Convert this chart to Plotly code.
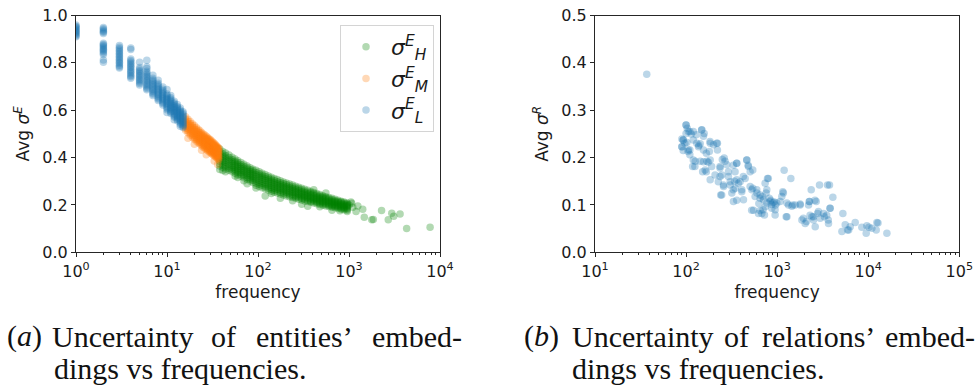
import plotly.graph_objects as go

# ------------------------------------------------------------------ data
# (a) entities: frequency -> observed average sigma values (read off the plot)
L_freq = [1, 2, 3, 4, 5, 6, 7, 8, 9, 10, 11, 12, 13, 14, 15]
L_sigma = [
    [0.910, 0.915, 0.920, 0.925, 0.929, 0.934, 0.938, 0.942, 0.947, 0.951, 0.955, 0.960],
    [0.924, 0.929, 0.934, 0.939, 0.944, 0.949, 0.842, 0.848, 0.853, 0.858, 0.863, 0.868, 0.873, 0.878, 0.883, 0.835, 0.812, 0.803],
    [0.778, 0.784, 0.790, 0.797, 0.803, 0.809, 0.815, 0.822, 0.828, 0.834, 0.841, 0.847, 0.853, 0.860, 0.866, 0.873],
    [0.863, 0.856, 0.735, 0.741, 0.747, 0.754, 0.760, 0.766, 0.772, 0.779, 0.785, 0.791, 0.797, 0.804, 0.810, 0.816],
    [0.803, 0.707, 0.713, 0.719, 0.725, 0.731, 0.737, 0.743, 0.749, 0.755, 0.761, 0.767, 0.773, 0.780],
    [0.811, 0.784, 0.776, 0.686, 0.692, 0.698, 0.704, 0.710, 0.716, 0.722, 0.728, 0.734, 0.740, 0.746, 0.752, 0.758, 0.765],
    [0.662, 0.668, 0.674, 0.680, 0.686, 0.692, 0.698, 0.704, 0.710, 0.716, 0.722, 0.728, 0.735, 0.748],
    [0.641, 0.647, 0.653, 0.659, 0.665, 0.671, 0.677, 0.683, 0.689, 0.695, 0.701, 0.708, 0.714, 0.727],
    [0.622, 0.628, 0.634, 0.640, 0.646, 0.652, 0.658, 0.664, 0.670, 0.676, 0.682, 0.689, 0.698],
    [0.602, 0.608, 0.614, 0.620, 0.626, 0.632, 0.638, 0.644, 0.650, 0.656, 0.662, 0.669, 0.688, 0.590],
    [0.586, 0.592, 0.598, 0.604, 0.610, 0.616, 0.622, 0.628, 0.634, 0.640, 0.646, 0.653, 0.662],
    [0.571, 0.577, 0.583, 0.589, 0.595, 0.601, 0.607, 0.613, 0.619, 0.625, 0.631, 0.638, 0.560],
    [0.556, 0.562, 0.568, 0.574, 0.580, 0.586, 0.592, 0.598, 0.604, 0.610, 0.616, 0.624],
    [0.541, 0.547, 0.553, 0.559, 0.565, 0.571, 0.577, 0.583, 0.589, 0.595, 0.601, 0.609, 0.532],
    [0.527, 0.533, 0.539, 0.545, 0.551, 0.557, 0.563, 0.569, 0.575, 0.581, 0.587, 0.594],
]

M_freq = [16, 17, 18, 19, 20, 21, 22, 23, 24, 25, 26, 27, 28, 29, 30, 31, 32, 33, 34, 35, 36, 37]
M_sigma = [
    [0.515, 0.523, 0.531, 0.539, 0.547, 0.555, 0.563, 0.572],
    [0.505, 0.513, 0.521, 0.529, 0.537, 0.545, 0.553, 0.562, 0.482],
    [0.495, 0.503, 0.511, 0.519, 0.527, 0.535, 0.543, 0.552],
    [0.485, 0.493, 0.501, 0.509, 0.518, 0.526, 0.534, 0.543],
    [0.477, 0.485, 0.493, 0.501, 0.510, 0.518, 0.526, 0.535, 0.456],
    [0.470, 0.478, 0.486, 0.494, 0.502, 0.510, 0.518, 0.527],
    [0.463, 0.471, 0.479, 0.487, 0.495, 0.503, 0.511, 0.520],
    [0.457, 0.465, 0.473, 0.481, 0.489, 0.497, 0.505, 0.513],
    [0.450, 0.458, 0.466, 0.474, 0.482, 0.490, 0.498, 0.506, 0.431],
    [0.444, 0.452, 0.460, 0.468, 0.476, 0.484, 0.492, 0.500],
    [0.439, 0.447, 0.455, 0.463, 0.471, 0.479, 0.487, 0.495],
    [0.434, 0.442, 0.450, 0.458, 0.466, 0.474, 0.482, 0.490, 0.412],
    [0.430, 0.437, 0.444, 0.451, 0.458, 0.465, 0.472, 0.479, 0.485],
    [0.425, 0.432, 0.439, 0.446, 0.453, 0.460, 0.467, 0.474, 0.480],
    [0.420, 0.427, 0.434, 0.441, 0.448, 0.455, 0.462, 0.469, 0.475],
    [0.416, 0.423, 0.430, 0.437, 0.444, 0.451, 0.458, 0.464, 0.470],
    [0.412, 0.419, 0.426, 0.433, 0.440, 0.446, 0.452, 0.459, 0.465],
    [0.408, 0.415, 0.422, 0.429, 0.436, 0.442, 0.448, 0.454, 0.460, 0.386],
    [0.404, 0.411, 0.418, 0.425, 0.432, 0.438, 0.444, 0.450, 0.455],
    [0.400, 0.407, 0.414, 0.421, 0.428, 0.434, 0.440, 0.445, 0.450],
    [0.395, 0.402, 0.409, 0.416, 0.423, 0.429, 0.435, 0.440, 0.445, 0.371],
    [0.390, 0.397, 0.404, 0.411, 0.418, 0.424, 0.430, 0.435, 0.440],
]

H_freq = [38, 41, 44, 48, 52, 56, 60, 65, 70, 76, 82, 88, 95, 103, 111, 120, 130, 140, 151, 163,
          176, 190, 205, 222, 240, 259, 280, 302, 326, 352, 380, 410, 443, 478, 516, 557, 602,
          650, 702, 758, 819, 884, 955]
H_sigma = [
    [0.364, 0.374, 0.384, 0.394, 0.404, 0.414, 0.424, 0.436, 0.350],
    [0.358, 0.368, 0.377, 0.387, 0.396, 0.406, 0.415, 0.426, 0.345],
    [0.352, 0.361, 0.370, 0.380, 0.389, 0.398, 0.408, 0.419, 0.340],
    [0.346, 0.355, 0.364, 0.373, 0.382, 0.391, 0.400, 0.411],
    [0.340, 0.349, 0.357, 0.366, 0.374, 0.383, 0.391, 0.401],
    [0.334, 0.343, 0.351, 0.360, 0.368, 0.377, 0.385, 0.394, 0.322],
    [0.328, 0.337, 0.345, 0.353, 0.361, 0.370, 0.378, 0.387, 0.316],
    [0.322, 0.330, 0.338, 0.346, 0.354, 0.362, 0.370, 0.379],
    [0.315, 0.323, 0.331, 0.339, 0.347, 0.355, 0.363, 0.372, 0.302],
    [0.308, 0.316, 0.324, 0.332, 0.340, 0.348, 0.356, 0.364, 0.290],
    [0.301, 0.309, 0.317, 0.325, 0.333, 0.341, 0.349, 0.357],
    [0.295, 0.303, 0.311, 0.319, 0.327, 0.335, 0.343, 0.351],
    [0.283, 0.292, 0.301, 0.310, 0.319, 0.328, 0.337, 0.346, 0.272],
    [0.278, 0.287, 0.296, 0.305, 0.314, 0.322, 0.331, 0.340],
    [0.273, 0.282, 0.291, 0.300, 0.308, 0.317, 0.325, 0.334],
    [0.268, 0.277, 0.286, 0.294, 0.303, 0.311, 0.320, 0.329, 0.238],
    [0.263, 0.272, 0.280, 0.289, 0.297, 0.305, 0.314, 0.322],
    [0.258, 0.267, 0.275, 0.283, 0.292, 0.300, 0.308, 0.317, 0.248],
    [0.254, 0.262, 0.270, 0.279, 0.287, 0.295, 0.303, 0.312],
    [0.250, 0.258, 0.266, 0.274, 0.282, 0.290, 0.298, 0.307],
    [0.246, 0.254, 0.262, 0.270, 0.278, 0.286, 0.294, 0.302, 0.228],
    [0.242, 0.250, 0.258, 0.266, 0.273, 0.281, 0.289, 0.297],
    [0.238, 0.246, 0.254, 0.262, 0.269, 0.277, 0.285, 0.293],
    [0.235, 0.243, 0.250, 0.258, 0.265, 0.273, 0.280, 0.288],
    [0.231, 0.239, 0.246, 0.254, 0.261, 0.268, 0.276, 0.284, 0.218],
    [0.228, 0.235, 0.242, 0.250, 0.257, 0.264, 0.271, 0.279],
    [0.224, 0.231, 0.238, 0.245, 0.252, 0.260, 0.267, 0.275],
    [0.221, 0.228, 0.235, 0.242, 0.249, 0.256, 0.263, 0.271, 0.203],
    [0.217, 0.224, 0.231, 0.238, 0.244, 0.251, 0.258, 0.266],
    [0.214, 0.221, 0.227, 0.234, 0.241, 0.247, 0.254, 0.262, 0.194],
    [0.211, 0.217, 0.224, 0.230, 0.237, 0.243, 0.250, 0.257],
    [0.208, 0.214, 0.221, 0.227, 0.233, 0.239, 0.246, 0.253, 0.264],
    [0.205, 0.211, 0.217, 0.223, 0.229, 0.235, 0.241, 0.248],
    [0.202, 0.208, 0.214, 0.220, 0.226, 0.232, 0.238, 0.244, 0.192],
    [0.199, 0.205, 0.211, 0.216, 0.222, 0.228, 0.234, 0.239],
    [0.196, 0.202, 0.207, 0.213, 0.218, 0.224, 0.229, 0.235, 0.250],
    [0.193, 0.199, 0.204, 0.209, 0.215, 0.220, 0.225, 0.231],
    [0.190, 0.195, 0.201, 0.206, 0.211, 0.216, 0.222, 0.228, 0.178],
    [0.188, 0.193, 0.198, 0.203, 0.208, 0.213, 0.218, 0.224],
    [0.185, 0.190, 0.195, 0.200, 0.205, 0.210, 0.215, 0.220],
    [0.182, 0.187, 0.192, 0.197, 0.202, 0.207, 0.212, 0.216],
    [0.180, 0.185, 0.190, 0.194, 0.199, 0.203, 0.208, 0.212],
    [0.178, 0.183, 0.187, 0.192, 0.196, 0.200, 0.204, 0.208, 0.172],
]
H_tail_freq = [1000, 1050, 1070, 1100, 1195, 1250, 1415, 1472, 1780, 1850, 2280, 2700, 2950,
               3100, 3640, 4300, 7780, 795]
H_tail_sigma = [0.200, 0.212, 0.207, 0.190, 0.172, 0.195, 0.182, 0.148, 0.137, 0.138, 0.176,
                0.137, 0.165, 0.152, 0.162, 0.101, 0.106, 0.175]

# (b) relations
rel_freq = [37, 90, 90, 93, 93, 100, 103, 100, 106, 97, 102, 106, 110, 118, 126, 120, 120, 129,
            137, 143, 149, 158, 155, 143, 152, 162, 169, 184, 184, 200, 221, 221, 191, 184, 208,
            226, 236, 247, 262, 268, 257, 240, 280, 292, 305, 318, 331, 346, 360, 360, 392, 409,
            427, 445, 464, 484, 505, 527, 540, 550, 573, 598, 624, 650, 679, 708, 726, 738, 757,
            770, 783, 837, 873, 950, 991, 1079, 1125, 1193, 1153, 1256, 1333, 1414, 1450, 1578,
            1790, 1868, 2032, 2210, 2365, 2266, 2405, 2508, 2617, 2684, 2775, 2918, 2970, 3231,
            3573, 3758, 3664, 3822, 4090, 5270, 5140, 5588, 5930, 6344, 7196, 8510, 9500, 9660,
            10970, 12450, 12240, 16030,
            100, 93, 90, 110, 114, 148, 155, 131, 138, 110, 105, 120, 125, 183, 217, 167, 180,
            155, 167, 175, 236, 250, 236, 292, 330, 360, 345, 464, 480, 425, 375, 305, 258, 246,
            330, 409, 505, 540, 600, 650, 690, 770, 800, 820, 740, 700, 650, 525, 630, 870, 930,
            950, 360, 340,
            1170, 1280, 1480, 1790, 2250, 2600, 1940, 2100, 2300, 2500, 2840, 3300, 3640, 3500,
            3800, 1280, 900, 850, 960, 6100, 12800, 10200]
rel_sigma = [0.376, 0.239, 0.223, 0.237, 0.215, 0.269, 0.262, 0.251, 0.255, 0.230, 0.232, 0.216,
             0.206, 0.181, 0.192, 0.237, 0.255, 0.248, 0.223, 0.229, 0.259, 0.251, 0.216, 0.192,
             0.170, 0.174, 0.192, 0.195, 0.230, 0.227, 0.230, 0.216, 0.181, 0.153, 0.163, 0.149,
             0.178, 0.163, 0.199, 0.192, 0.142, 0.121, 0.185, 0.160, 0.142, 0.125, 0.107, 0.135,
             0.188, 0.153, 0.149, 0.132, 0.111, 0.156, 0.195, 0.181, 0.170, 0.132, 0.174, 0.089,
             0.118, 0.132, 0.082, 0.121, 0.082, 0.111, 0.079, 0.146, 0.125, 0.104, 0.156, 0.107,
             0.093, 0.079, 0.104, 0.107, 0.118, 0.173, 0.128, 0.075, 0.100, 0.156, 0.097, 0.100,
             0.102, 0.068, 0.061, 0.100, 0.132, 0.107, 0.075, 0.068, 0.054, 0.107, 0.082, 0.142,
             0.072, 0.082, 0.142, 0.142, 0.061, 0.093, 0.116, 0.082, 0.044, 0.058, 0.047, 0.054,
             0.063, 0.053, 0.040, 0.056, 0.051, 0.063, 0.047, 0.040,
             0.269, 0.237, 0.223, 0.255, 0.250, 0.258, 0.245, 0.230, 0.226, 0.216, 0.213, 0.195,
             0.181, 0.234, 0.230, 0.209, 0.213, 0.191, 0.170, 0.190, 0.181, 0.196, 0.160, 0.170,
             0.184, 0.188, 0.170, 0.195, 0.184, 0.160, 0.146, 0.149, 0.139, 0.121, 0.132, 0.128,
             0.139, 0.135, 0.125, 0.114, 0.118, 0.132, 0.156, 0.114, 0.096, 0.090, 0.088, 0.089,
             0.103, 0.101, 0.106, 0.090, 0.110, 0.150,
             0.125, 0.104, 0.100, 0.100, 0.107, 0.110, 0.072, 0.065, 0.078, 0.075, 0.086, 0.075,
             0.068, 0.078, 0.093, 0.075, 0.105, 0.110, 0.100, 0.047, 0.062, 0.053]

legend_labels = ["<i>σ</i><sup><i>E</i></sup><sub><i>H</i></sub>",
                 "<i>σ</i><sup><i>E</i></sup><sub><i>M</i></sub>",
                 "<i>σ</i><sup><i>E</i></sup><sub><i>L</i></sub>"]
x_title = "frequency"
y_title_a = "Avg <i>σ</i><sup><i>E</i></sup>"
y_title_b = "Avg <i>σ</i><sup><i>R</i></sup>"
caption_a_line1 = ["(<i>a</i>)", "Uncertainty", "of", "entities’", "embed-"]
caption_a_line2 = "dings vs frequencies."
caption_b_line1 = ["(<i>b</i>)", "Uncertainty", "of", "relations’", "embed-"]
caption_b_line2 = "dings vs frequencies."


def expand(freqs, groups):
    xs, ys = [], []
    for f, vals in zip(freqs, groups):
        for v in vals:
            xs.append(f)
            ys.append(v)
    return xs, ys


Lx, Ly = expand(L_freq, L_sigma)
Mx, My = expand(M_freq, M_sigma)
Hx, Hy = expand(H_freq, H_sigma)
Hx = Hx + H_tail_freq
Hy = Hy + H_tail_sigma

# ------------------------------------------------------------------ figure
W, H = 975, 387
GREEN, ORANGE, BLUE = "#008000", "#ff7f0e", "#1f77b4"
ALPHA = 0.3
MSIZE = 7.5

fig = go.Figure()
for xs, ys, col, lab in [(Hx, Hy, GREEN, legend_labels[0]),
                         (Mx, My, ORANGE, legend_labels[1]),
                         (Lx, Ly, BLUE, legend_labels[2])]:
    fig.add_trace(go.Scatter(x=xs, y=ys, mode="markers", name=lab, legendgroup=lab,
                             marker=dict(color=col, size=MSIZE, opacity=ALPHA, line=dict(width=0)),
                             xaxis="x", yaxis="y"))

fig.add_trace(go.Scatter(x=rel_freq, y=rel_sigma, mode="markers", showlegend=False,
                         marker=dict(color=BLUE, size=MSIZE, opacity=ALPHA, line=dict(width=0)),
                         xaxis="x2", yaxis="y2"))

AX_COL = "#262626"
TICK_FONT = dict(family="DejaVu Sans", size=16, color="#1a1a1a")
TITLE_FONT = dict(family="DejaVu Sans", size=17, color="#1a1a1a")


def minor_vals(lo, hi):
    out = []
    for e in range(lo, hi):
        for m in range(2, 10):
            out.append(m * 10 ** e)
    return out


def log_axis(domain, lo, hi, anchor):
    return dict(domain=domain, type="log", range=[lo, hi], anchor=anchor, automargin=False,
                tickmode="array", tickvals=[10 ** e for e in range(lo, hi + 1)],
                ticktext=[f"10<sup>{e}</sup>" for e in range(lo, hi + 1)],
                ticks="outside", ticklen=4, tickwidth=1, tickcolor=AX_COL,
                minor=dict(ticks="outside", ticklen=2, tickwidth=0.8, tickcolor=AX_COL,
                           tickmode="array", tickvals=minor_vals(lo, hi)),
                showline=True, mirror=True, linecolor=AX_COL, linewidth=1,
                showgrid=False, zeroline=False, tickfont=TICK_FONT,
                title=dict(text=x_title, font=TITLE_FONT, standoff=6))


def lin_axis(domain, top, step, anchor, title):
    n = int(round(top / step))
    return dict(domain=domain, range=[0, top], anchor=anchor, automargin=False,
                tickmode="array", tickvals=[round(i * step, 2) for i in range(n + 1)],
                tickformat=".1f",
                ticks="outside", ticklen=4, tickwidth=1, tickcolor=AX_COL,
                showline=True, mirror=True, linecolor=AX_COL, linewidth=1,
                showgrid=False, zeroline=False, tickfont=TICK_FONT,
                title=dict(text=title, font=TITLE_FONT, standoff=8))


ydom = [1 - 252.3 / H, 1 - 15.5 / H]
fig.update_layout(
    width=W, height=H,
    margin=dict(l=0, r=0, t=0, b=0, autoexpand=False),
    paper_bgcolor="white", plot_bgcolor="white",
    font=dict(family="DejaVu Sans", color="#1a1a1a"),
    xaxis=log_axis([76 / W, 440 / W], 0, 4, "y"),
    yaxis=lin_axis(ydom, 1.0, 0.2, "x", y_title_a),
    xaxis2=log_axis([595 / W, 959.3 / W], 1, 5, "y2"),
    yaxis2=lin_axis(ydom, 0.5, 0.1, "x2", y_title_b),
    legend=dict(x=340 / W, y=1 - 25 / H, xanchor="left", yanchor="top",
                bgcolor="rgba(255,255,255,0.85)", bordercolor="#d4d4d4", borderwidth=1,
                font=dict(family="DejaVu Sans", size=22, color="#1a1a1a"),
                itemwidth=40, tracegroupgap=19, traceorder="normal"),
    showlegend=True,
)

# captions (word positions reproduce the justified layout of the original)
CAP_FONT = dict(family="Liberation Serif", size=30, color="#111")
cap_rows = [
    (caption_a_line1, [5, 50, 209, 254, 370], 336),
    (caption_b_line1, [522, 570, 722, 760, 883], 336),
]
for words, xs_px, ypx in cap_rows:
    for wtxt, xp in zip(words, xs_px):
        fig.add_annotation(text=wtxt, x=xp / W, y=1 - ypx / H, xref="paper", yref="paper",
                           xanchor="left", yanchor="middle", showarrow=False, font=CAP_FONT)
for txt, xp in [(caption_a_line2, 52), (caption_b_line2, 570)]:
    fig.add_annotation(text=txt, x=xp / W, y=1 - 368 / H, xref="paper", yref="paper",
                       xanchor="left", yanchor="middle", showarrow=False, font=CAP_FONT)

# remove the browser's default 8px page margin so the figure fills the window exactly
fig.write_html("out.html", config={"displayModeBar": False},
               post_script="document.body.style.margin='0px';")
